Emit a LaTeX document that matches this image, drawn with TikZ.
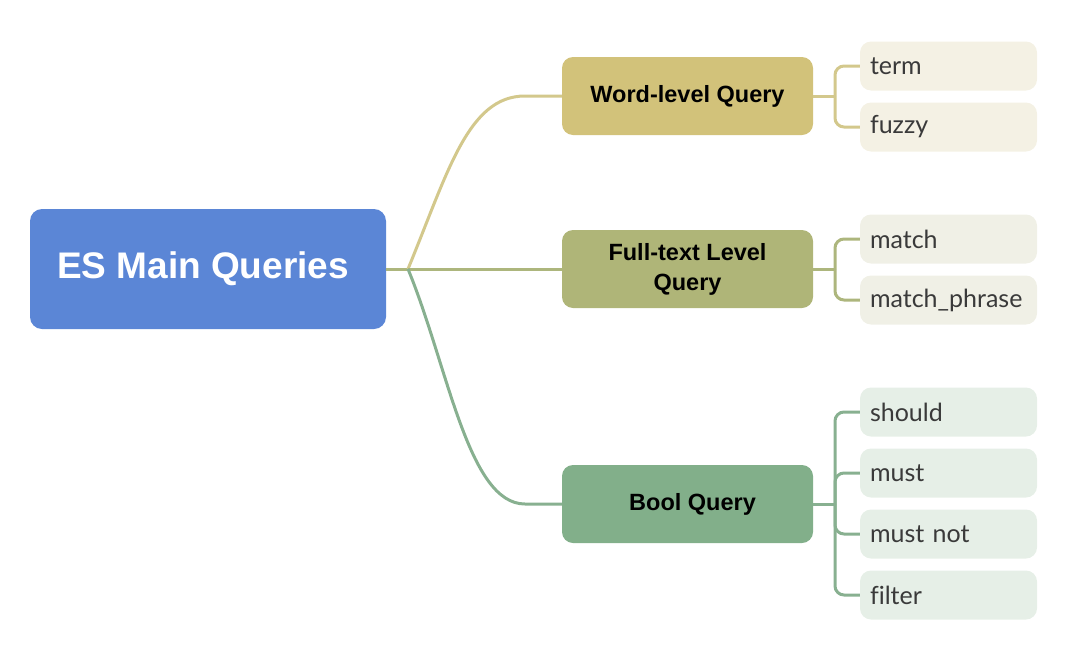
\documentclass[tikz,border=0pt]{standalone}
\usepackage{fontspec}
\setmainfont{Liberation Sans}
\newfontfamily\leaffont[Ligatures=NoCommon]{Lato}
\usetikzlibrary{calc}

\definecolor{rootblue}{HTML}{5B86D6}
\definecolor{wordfill}{HTML}{D2C27A}
\definecolor{fullfill}{HTML}{AFB578}
\definecolor{boolfill}{HTML}{82AF8A}
\definecolor{wordline}{HTML}{D3C88C}
\definecolor{fullline}{HTML}{ADB67D}
\definecolor{boolline}{HTML}{88B090}
\definecolor{wordleaf}{HTML}{F4F1E4}
\definecolor{fullleaf}{HTML}{F0F0E6}
\definecolor{boolleaf}{HTML}{E6EFE7}
\definecolor{leaftext}{HTML}{3A3A3A}

\tikzset{
  rootbox/.style={fill=rootblue, rounded corners=12pt, minimum width=356pt, minimum height=120pt,
    text=white, font=\fontsize{37}{40}\selectfont\bfseries},
  groupbox/.style={rounded corners=11pt, minimum width=251pt, minimum height=78pt,
    align=center, font=\fontsize{23.5}{30}\selectfont\bfseries},
  leafbox/.style={rounded corners=11pt, minimum width=177pt, minimum height=49pt,
    text=leaftext, text width=157pt, align=left, font=\leaffont\fontsize{25}{28}\selectfont},
  branch/.style={line width=3pt},
  bracket/.style={line width=3pt, rounded corners=9pt},
}

\begin{document}
\begin{tikzpicture}[x=1pt, y=-1pt]
\useasboundingbox (0,0) rectangle (1080,670);

% main node and groups
\node[rootbox] (root) at (208,269) {\hspace*{-10pt}ES Main Queries};
\node[groupbox, fill=wordfill] (word) at (687.5,96) {Word-level Query};
\node[groupbox, fill=fullfill] (full) at (687.5,269) {Full-text Level\\Query};
\node[groupbox, fill=boolfill] (bool) at (687.5,504) {\hspace*{10pt}Bool Query};

% leaves
\node[leafbox, fill=wordleaf] (term) at (948.5,66) {term};
\node[leafbox, fill=wordleaf] (fuzzy) at (948.5,127) {fuzzy};
\node[leafbox, fill=fullleaf] (match) at (948.5,239) {match};
\node[leafbox, fill=fullleaf] (phrase) at (948.5,300) {match\_phrase};
\node[leafbox, fill=boolleaf] (should) at (948.5,412) {should};
\node[leafbox, fill=boolleaf] (must) at (948.5,473) {must};
\node[leafbox, fill=boolleaf] (mustnot) at (948.5,534) {must not};
\node[leafbox, fill=boolleaf] (filter) at (948.5,595) {filter};

% branches from the main node
\coordinate (hub) at (408,269);
\draw[branch, fullline] (root.east) -- (hub);
\draw[branch, wordline] (hub) .. controls (448,172) and (468,96) .. (525,96) -- (word.west);
\draw[branch, fullline] (hub) -- (full.west);
\draw[branch, boolline] (hub) .. controls (448,366) and (468,504) .. (525,504) -- (bool.west);

% brackets to the leaves
\coordinate (wj) at (835,96);
\coordinate (fj) at (835,269);
\coordinate (bj) at (835,504);
\draw[branch, wordline] (word.east) -- (wj);
\draw[branch, fullline] (full.east) -- (fj);
\draw[branch, boolline] (bool.east) -- (bj);
\foreach \leaf in {term,fuzzy} \draw[bracket, wordline] (wj) |- (\leaf.west);
\foreach \leaf in {match,phrase} \draw[bracket, fullline] (fj) |- (\leaf.west);
\foreach \leaf in {should,must,mustnot,filter} \draw[bracket, boolline] (bj) |- (\leaf.west);
\end{tikzpicture}
\end{document}
